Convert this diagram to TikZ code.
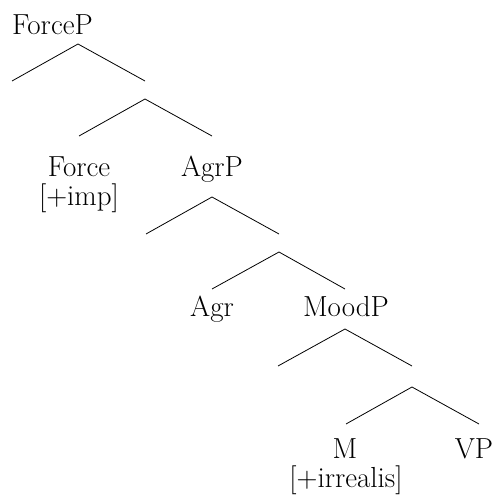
\documentclass[tikz,border=0pt]{standalone}
\usepackage{fontspec}
\setmainfont{Latin Modern Roman}
\begin{document}
\begin{tikzpicture}[x=1pt,y=-1pt,
  lbl/.style={anchor=base,inner sep=0pt,font=\fontsize{29}{34}\selectfont},
  branch/.style={line width=0.8pt}]
\useasboundingbox (0,0) rectangle (496,495);

% branch points: apex, left foot, right foot
\coordinate (a1) at (78,44);  \coordinate (l1) at (12,81);  \coordinate (r1) at (145,81);
\coordinate (a2) at (145,99); \coordinate (l2) at (79,136); \coordinate (r2) at (212,136);
\coordinate (a3) at (212,197);\coordinate (l3) at (146,234);\coordinate (r3) at (279,234);
\coordinate (a4) at (279,252);\coordinate (l4) at (212,289);\coordinate (r4) at (345,289);
\coordinate (a5) at (345,329);\coordinate (l5) at (278,366);\coordinate (r5) at (412,366);
\coordinate (a6) at (412,387);\coordinate (l6) at (346,424);\coordinate (r6) at (479,424);

\foreach \i in {1,...,6}
  \draw[branch] (l\i) -- (a\i) -- (r\i);

% labels
\node[lbl,anchor=base west] (forcep) at (12,35) {ForceP};
\node[lbl] (force) at (79,176) {Force};
\node[lbl] (imp) at (79,205) {[+imp]};
\node[lbl] (agrp) at (212,176) {AgrP};
\node[lbl] (agr) at (212,316) {Agr};
\node[lbl] (moodp) at (346,316) {MoodP};
\node[lbl] (m) at (345,458) {M};
\node[lbl] (irr) at (346,487) {[+irrealis]};
\node[lbl] (vp) at (474,458) {VP};
\end{tikzpicture}
\end{document}
